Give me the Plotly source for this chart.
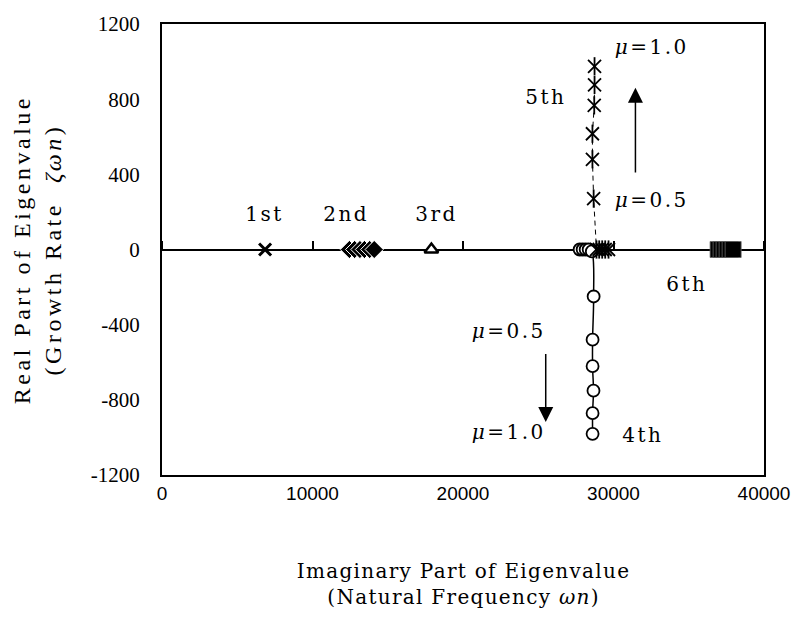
import json
import plotly.graph_objects as go

# ---------------- data ----------------
mode1_x = [6850]
mode1_y = [0]
mode2_x = [12450, 12800, 13150, 13450, 13800, 14100]
mode2_y = [0, 0, 0, 0, 0, 0]
mode3_x = [17900]
mode3_y = [0]
mode4_x = [27750, 27950, 28150, 28350, 28560, 28680, 28610, 28610, 28670, 28610, 28610]
mode4_y = [0, 0, 0, 0, -10, -250, -480, -621, -751, -871, -981]
mode5_x = [29670, 29450, 29250, 29050, 28870, 28680, 28600, 28600, 28720, 28740, 28740]
mode5_y = [0, 0, 0, 0, 0, 271, 480, 616, 767, 876, 975]
mode6_x = [36950, 37150, 37350, 37550, 37750, 37950]
mode6_y = [0, 0, 0, 0, 0, 0]

x_ticks = [0, 10000, 20000, 30000, 40000]
x_tick_text = ["0", "10000", "20000", "30000", "40000"]
y_ticks = [-1200, -800, -400, 0, 400, 800, 1200]
y_tick_text = ["-1200", "-800", "-400", "0", "400", "800", "1200"]

label_text = ["1st", "2nd", "3rd", "5th", "<i>μ</i>=1.0", "<i>μ</i>=0.5",
              "6th", "<i>μ</i>=0.5", "<i>μ</i>=1.0", "4th"]
label_x = [6821, 12252, 18212, 25497, 32550, 32550, 34900, 23046, 23046, 31954]
label_y = [188, 188, 188, 814, 1080, 266, -183, -433, -971, -986]

arrow_x = [31457, 25497]
arrow_from = [402, -548]
arrow_to = [861, -918]

SERIF = "DejaVu Serif, serif"
TIMES = "Liberation Serif, Times New Roman, serif"
SANS = "Liberation Sans, Arial, sans-serif"

fig = go.Figure()

# 5th mode: dashed path + asterisk markers
fig.add_trace(go.Scatter(x=mode5_x, y=mode5_y, mode="lines",
                         line=dict(color="black", width=1, dash="5px,4px"),
                         hoverinfo="skip"))
# 4th mode: smoothed solid path
fig.add_trace(go.Scatter(x=mode4_x, y=mode4_y, mode="lines",
                         line=dict(color="black", width=1.5, shape="spline"),
                         hoverinfo="skip"))
fig.add_trace(go.Scatter(x=mode4_x, y=mode4_y, mode="markers",
                         marker=dict(symbol="circle", size=12, color="white",
                                     line=dict(color="black", width=1.8))))
for sym in ["x-thin-open", "line-ns-open"]:
    fig.add_trace(go.Scatter(x=mode5_x, y=mode5_y, mode="markers",
                             marker=dict(symbol=sym, size=13, color="black",
                                         line=dict(color="black", width=1.8))))
# 1st mode (also carries the y=0 axis)
fig.add_trace(go.Scatter(x=mode1_x, y=mode1_y, mode="markers", xaxis="x2",
                         marker=dict(symbol="x-thin-open", size=12, color="black",
                                     line=dict(color="black", width=3))))
fig.add_trace(go.Scatter(x=mode2_x, y=mode2_y, mode="markers",
                         marker=dict(symbol="diamond", size=14, color="black",
                                     line=dict(color="white", width=1))))
fig.add_trace(go.Scatter(x=mode3_x, y=mode3_y, mode="markers",
                         marker=dict(symbol="triangle-up", size=12, color="white",
                                     line=dict(color="black", width=2.5))))
fig.add_trace(go.Scatter(x=mode6_x, y=mode6_y, mode="markers",
                         marker=dict(symbol="square", size=16, color="black",
                                     line=dict(color="#666666", width=0.8))))

annotations = []
spacing = []
for t, x, y in zip(label_text, label_x, label_y):
    annotations.append(dict(x=x, y=y, xref="x", yref="y", text=t, showarrow=False,
                            xanchor="center", yanchor="middle",
                            font=dict(family=SERIF, size=20, color="black")))
    spacing.append(2.5)
for x, y0, y1 in zip(arrow_x, arrow_from, arrow_to):
    annotations.append(dict(x=x, y=y1, ax=x, ay=y0, xref="x", yref="y",
                            axref="x", ayref="y", text="", showarrow=True,
                            arrowhead=2, arrowsize=2, arrowwidth=1.5,
                            arrowcolor="black"))
    spacing.append(0)
# axis titles
annotations.append(dict(x=0.5, y=-0.2413, xref="paper", yref="paper",
                        text="Imaginary Part of Eigenvalue<br>(Natural Frequency <i>ωn</i>)",
                        showarrow=False, xanchor="center", yanchor="middle",
                        font=dict(family=SERIF, size=20, color="black")))
spacing.append(1.3)
annotations.append(dict(x=-0.207, y=0.5, xref="paper", yref="paper", textangle=-90,
                        text="Real Part of Eigenvalue<br>(Growth Rate  <i>ζωn</i>)",
                        showarrow=False, xanchor="center", yanchor="middle",
                        font=dict(family=TIMES, size=24, color="black")))
spacing.append(3.5)

fig.update_layout(
    width=802, height=628,
    margin=dict(l=162, r=36, t=15, b=153),
    paper_bgcolor="white", plot_bgcolor="white",
    showlegend=False,
    annotations=annotations,
    xaxis=dict(range=[0, 40000], tickvals=x_ticks, ticktext=x_tick_text,
               showline=True, mirror=True, linecolor="black", linewidth=2,
               ticks="", showgrid=False, zeroline=False,
               tickfont=dict(family=SANS, size=19, color="black")),
    xaxis2=dict(range=[0, 40000], tickvals=x_ticks, overlaying="x", anchor="free",
                position=0.5, side="top", ticks="outside", ticklen=8, tickwidth=1.5,
                tickcolor="black", showticklabels=False, showline=True,
                linecolor="black", linewidth=2, showgrid=False, zeroline=False,
                layer="below traces"),
    yaxis=dict(range=[-1200, 1200], tickvals=y_ticks, ticktext=y_tick_text,
               showline=True, mirror=True, linecolor="black", linewidth=2,
               ticks="", showgrid=False, zeroline=False, ticklabelstandoff=16,
               tickfont=dict(family=TIMES, size=21, color="black")),
)

post = ("var gd=document.getElementById('{plot_id}');var sp=" + json.dumps(spacing) + ";"
        "gd.querySelectorAll('g.annotation').forEach(function(g){"
        "var i=+g.getAttribute('data-index');var t=g.querySelector('text.annotation-text');"
        "if(t&&sp[i]){t.style.letterSpacing=sp[i]+'px';}});")

fig.write_html("out.html", post_script=post)
